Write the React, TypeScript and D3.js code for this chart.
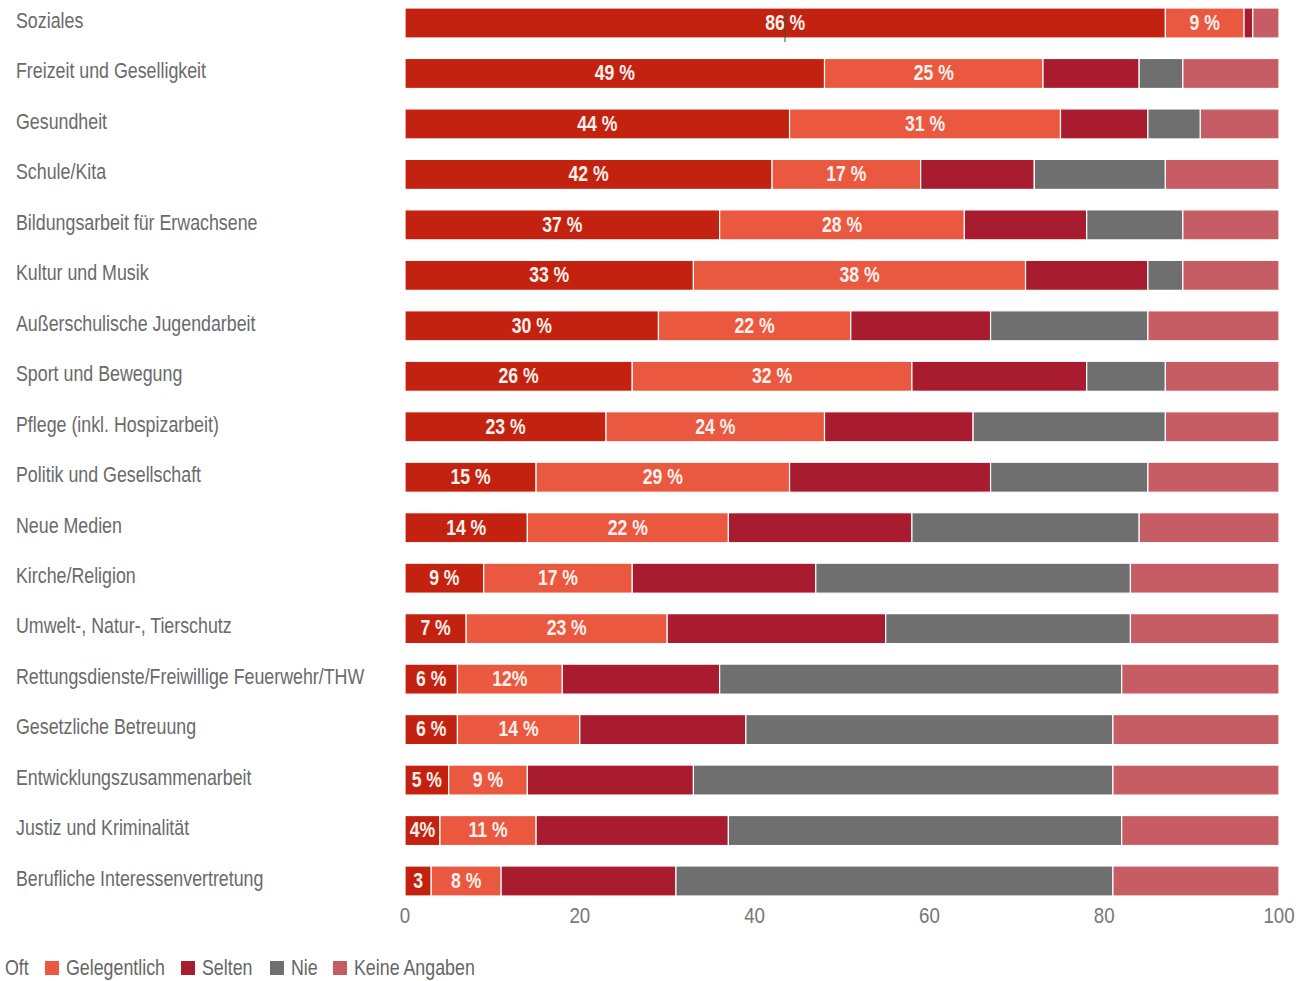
import React from "react";
import * as d3 from "d3";

const categories = [
  "Soziales",
  "Freizeit und Geselligkeit",
  "Gesundheit",
  "Schule/Kita",
  "Bildungsarbeit für Erwachsene",
  "Kultur und Musik",
  "Außerschulische Jugendarbeit",
  "Sport und Bewegung",
  "Pflege (inkl. Hospizarbeit)",
  "Politik und Gesellschaft",
  "Neue Medien",
  "Kirche/Religion",
  "Umwelt-, Natur-, Tierschutz",
  "Rettungsdienste/Freiwillige Feuerwehr/THW",
  "Gesetzliche Betreuung",
  "Entwicklungszusammenarbeit",
  "Justiz und Kriminalität",
  "Berufliche Interessenvertretung",
];

const seriesNames = ["Oft", "Gelegentlich", "Selten", "Nie", "Keine Angaben"];
const seriesColors = ["#c2220f", "#ea5840", "#a91c2f", "#6f6f6f", "#c65d64"];

const oft = [87, 48, 44, 42, 36, 33, 29, 26, 23, 15, 14, 9, 7, 6, 6, 5, 4, 3];
const gelegentlich = [9, 25, 31, 17, 28, 38, 22, 32, 25, 29, 23, 17, 23, 12, 14, 9, 11, 8];
const selten = [1, 11, 10, 13, 14, 14, 16, 20, 17, 23, 21, 21, 25, 18, 19, 19, 22, 20];
const nie = [0, 5, 6, 15, 11, 4, 18, 9, 22, 18, 26, 36, 28, 46, 42, 48, 45, 50];
const keineAngaben = [3, 11, 9, 13, 11, 11, 15, 13, 13, 15, 16, 17, 17, 18, 19, 19, 18, 19];

const oftLabels = ["86 %", "49 %", "44 %", "42 %", "37 %", "33 %", "30 %", "26 %", "23 %", "15 %", "14 %", "9 %", "7 %", "6 %", "6 %", "5 %", "4%", "3"];
const gelLabels = ["9 %", "25 %", "31 %", "17 %", "28 %", "38 %", "22 %", "32 %", "24 %", "29 %", "22 %", "17 %", "23 %", "12%", "14 %", "9 %", "11 %", "8 %"];

const xTicks = [0, 20, 40, 60, 80, 100];

const FONT = "'Liberation Sans', Arial, sans-serif";

function NText(props: {
  x: number;
  y: number;
  sx: number;
  size: number;
  anchor?: string;
  fill: string;
  bold?: boolean;
  children: React.ReactNode;
}) {
  return (
    <text
      transform={`translate(${props.x},${props.y}) scale(${props.sx},1)`}
      textAnchor={props.anchor || "start"}
      dominantBaseline="middle"
      fontSize={props.size}
      fontWeight={props.bold ? "bold" : "normal"}
      fill={props.fill}
    >
      {props.children}
    </text>
  );
}

export default function App() {
  const x = d3.scaleLinear().domain([0, 100]).range([405, 1279]);
  const y = d3.scalePoint<string>().domain(categories).range([23, 881]);
  const barH = 30;

  const series = [oft, gelegentlich, selten, nie, keineAngaben];
  const rows = categories.map((c, i) => {
    const vals = series.map((s) => s[i]);
    const total = d3.sum(vals);
    const cum = d3.cumsum(vals).map((v) => (v / total) * 100);
    return vals.map((v, k) => ({
      cat: c,
      k,
      x0: k === 0 ? 0 : cum[k - 1],
      x1: cum[k],
      v,
    }));
  });

  const legendItems = [
    { name: seriesNames[0], x: 5, swatch: false, color: seriesColors[0] },
    { name: seriesNames[1], x: 45, swatch: true, color: seriesColors[1] },
    { name: seriesNames[2], x: 181, swatch: true, color: seriesColors[2] },
    { name: seriesNames[3], x: 270, swatch: true, color: seriesColors[3] },
    { name: seriesNames[4], x: 333, swatch: true, color: seriesColors[4] },
  ];

  return (
    <svg
      width={1299}
      height={981}
      style={{ position: "absolute", left: 0, top: 0, background: "#fff" }}
      fontFamily={FONT}
    >
      {categories.map((c) => (
        <NText key={c} x={16} y={(y(c) as number) - 1} sx={0.81} size={22} fill="#6a6a6a">
          {c}
        </NText>
      ))}
      {rows.map((segs, i) => (
        <g key={i}>
          {segs.map((s) =>
            s.v > 0 ? (
              <rect
                key={s.k}
                x={x(s.x0)}
                y={(y(s.cat) as number) - barH / 2}
                width={Math.max(0, x(s.x1) - x(s.x0))}
                height={barH}
                fill={seriesColors[s.k]}
                stroke="#fff"
                strokeWidth={1.2}
              />
            ) : null
          )}
          <NText
            x={(x(segs[0].x0) + x(segs[0].x1)) / 2}
            y={(y(segs[0].cat) as number) + 1}
            sx={0.8}
            size={22}
            anchor="middle"
            bold
            fill="#fff1ec"
          >
            {oftLabels[i]}
          </NText>
          <NText
            x={(x(segs[1].x0) + x(segs[1].x1)) / 2}
            y={(y(segs[1].cat) as number) + 1}
            sx={0.8}
            size={22}
            anchor="middle"
            bold
            fill="#fff1ec"
          >
            {gelLabels[i]}
          </NText>
        </g>
      ))}
      <line x1={785} x2={785} y1={12} y2={42} stroke="#335544" strokeWidth={1} />
      {xTicks.map((t) => (
        <NText key={t} x={x(t)} y={917} sx={0.85} size={22} anchor="middle" fill="#777">
          {t}
        </NText>
      ))}
      {legendItems.map((l) => (
        <g key={l.name}>
          {l.swatch && <rect x={l.x} y={961} width={14} height={14} fill={l.color} />}
          <NText x={l.swatch ? l.x + 21 : l.x} y={969} sx={0.81} size={22} fill="#666">
            {l.name}
          </NText>
        </g>
      ))}
    </svg>
  );
}
